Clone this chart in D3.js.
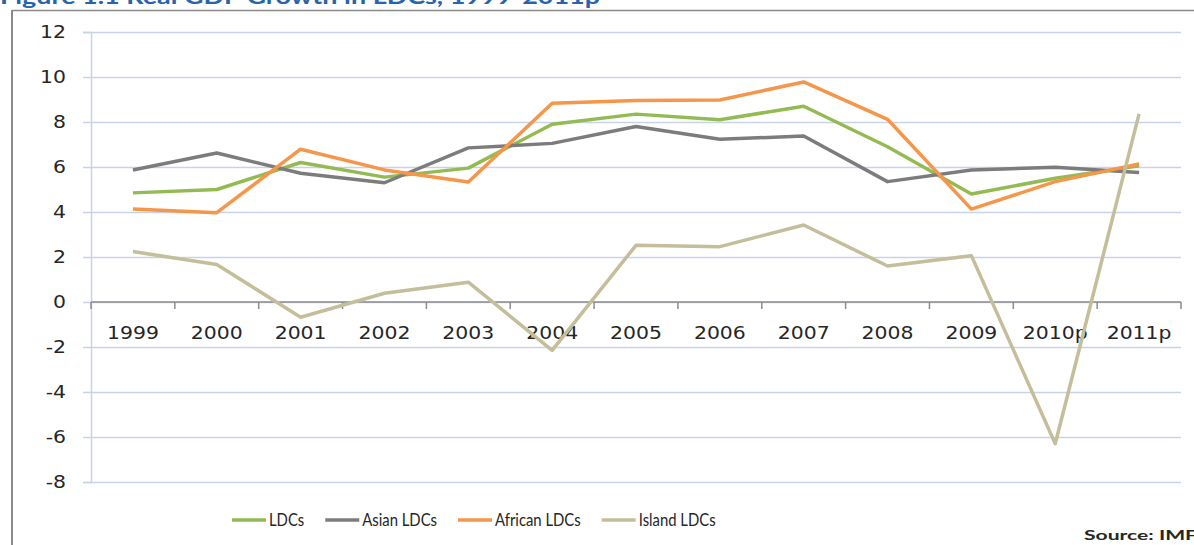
<!DOCTYPE html>
<meta charset="utf-8">
<style>
body {
  margin: 0;
  background: #fff;
}
svg {
  display: block;
}
.tick text, .lbl {
  font-family: "DejaVu Sans";
  font-size: 17px;
  fill: #262626;
}
.legend text {
  font-family: Lato;
  font-size: 16.5px;
  fill: #262626;
}
</style>
<body>
<script src="https://cdn.jsdelivr.net/npm/d3@7"></script>
<script>

var width = 1194,
    height = 545;

// horizontal stretch of the original picture's axis text
var sx = 1.2;
// legend text is narrower (Calibri-like)
var lsx = 0.9;

var years = ["1999", "2000", "2001", "2002", "2003", "2004", "2005", "2006", "2007", "2008", "2009", "2010p", "2011p"];

var ldcs    = [4.85, 5.0, 6.2, 5.55, 5.95, 7.9, 8.35, 8.1, 8.7, 6.9, 4.8, 5.5, 6.05];
var asian   = [5.87, 6.62, 5.72, 5.3, 6.85, 7.05, 7.8, 7.23, 7.38, 5.35, 5.87, 5.99, 5.76];
var african = [4.13, 3.97, 6.79, 5.87, 5.33, 8.83, 8.96, 8.98, 9.78, 8.12, 4.13, 5.35, 6.13];
var island  = [2.24, 1.67, -0.68, 0.39, 0.88, -2.15, 2.52, 2.46, 3.42, 1.6, 2.06, -6.3, 8.36];

var yTicks = [-8, -6, -4, -2, 0, 2, 4, 6, 8, 10, 12];

var series = [
  {name: "LDCs", values: ldcs, color: "#93bb52"},
  {name: "Asian LDCs", values: asian, color: "#7c7c7c"},
  {name: "African LDCs", values: african, color: "#f5964a"},
  {name: "Island LDCs", values: island, color: "#c4be9a"}
];

var x = d3.scaleBand()
    .domain(years)
    .range([91, 1181]);

var y = d3.scaleLinear()
    .domain([-8, 12])
    .range([482, 32]);

var svg = d3.select("body").append("svg")
    .attr("width", width)
    .attr("height", height);

// title, clipped at the top of the picture like the original
svg.append("text")
    .attr("x", 0)
    .attr("y", 4)
    .attr("textLength", 600)
    .attr("lengthAdjust", "spacingAndGlyphs")
    .style("font-family", "Lato")
    .style("font-weight", "bold")
    .style("font-size", "21px")
    .style("fill", "#2863ad")
    .text("Figure 1.1 Real GDP Growth in LDCs, 1999-2011p");

// frame
svg.append("line")
    .attr("x1", 12).attr("x2", 1194)
    .attr("y1", 10.5).attr("y2", 10.5)
    .attr("stroke", "#8a8a8a")
    .attr("stroke-width", 1.5);
svg.append("line")
    .attr("x1", 12).attr("x2", 12)
    .attr("y1", 10).attr("y2", height)
    .attr("stroke", "#8a8a8a")
    .attr("stroke-width", 2);

// gridlines
svg.append("g")
    .attr("transform", "translate(91,0)")
    .call(d3.axisLeft(y).tickValues(yTicks).tickSize(-(1181 - 91)).tickFormat(""))
    .call(function(g) {
      g.select(".domain").remove();
      g.selectAll(".tick line").attr("stroke", "#c9d3e8").attr("stroke-width", 1.5);
    });

// y axis with labels and stubs
var yAxis = svg.append("g")
    .attr("transform", "translate(91,0)")
    .call(d3.axisLeft(y).tickValues(yTicks).tickSize(8).tickPadding(17)
      .tickFormat(function(d) { return String(d); }));

yAxis.select(".domain").attr("stroke", "#c9d3e8").attr("stroke-width", 1.5);
yAxis.selectAll(".tick line").attr("stroke", "#c9d3e8").attr("stroke-width", 1.5);
yAxis.selectAll(".tick text")
    .attr("x", -25 / sx)
    .attr("transform", "scale(" + sx + ",1)");

// zero line with category boundary ticks
svg.append("line")
    .attr("x1", x.range()[0]).attr("x2", x.range()[1])
    .attr("y1", y(0)).attr("y2", y(0))
    .attr("stroke", "#8c8c8c")
    .attr("stroke-width", 1.5);

svg.selectAll(".bound")
    .data(years.map(function(d) { return x(d); }).concat(x.range()[1]))
  .enter().append("line")
    .attr("class", "bound")
    .attr("x1", function(d) { return d; })
    .attr("x2", function(d) { return d; })
    .attr("y1", y(0))
    .attr("y2", y(0) + 7)
    .attr("stroke", "#8c8c8c")
    .attr("stroke-width", 1.5);

var xAxis = svg.append("g")
    .attr("transform", "translate(0," + y(0) + ")")
    .call(d3.axisBottom(x).tickSize(0).tickPadding(25));

xAxis.select(".domain").remove();
xAxis.selectAll(".tick text").attr("transform", "scale(" + sx + ",1)");

// lines
var line = d3.line()
    .x(function(d, i) { return x(years[i]) + x.bandwidth() / 2; })
    .y(function(d) { return y(d); });

svg.selectAll(".series")
    .data(series)
  .enter().append("path")
    .attr("class", "series")
    .attr("d", function(d) { return line(d.values); })
    .attr("fill", "none")
    .attr("stroke", function(d) { return d.color; })
    .attr("stroke-width", 3.5)
    .attr("stroke-linejoin", "round");

// legend
var legend = svg.append("g").attr("class", "legend");
var lx = 232;
series.forEach(function(s) {
  legend.append("line")
      .attr("x1", lx).attr("x2", lx + 34)
      .attr("y1", 520).attr("y2", 520)
      .attr("stroke", s.color)
      .attr("stroke-width", 3.5);
  var t = legend.append("text")
      .attr("transform", "translate(" + (lx + 37) + ",526) scale(" + lsx + ",1)")
      .text(s.name);
  lx += 37 + t.node().getComputedTextLength() * lsx + 21;
});

svg.append("text")
    .attr("x", 1084)
    .attr("y", 540)
    .attr("textLength", 113)
    .attr("lengthAdjust", "spacingAndGlyphs")
    .style("font-family", "Lato")
    .style("font-weight", "bold")
    .style("font-size", "14px")
    .style("fill", "#262626")
    .text("Source: IMF");

</script>
